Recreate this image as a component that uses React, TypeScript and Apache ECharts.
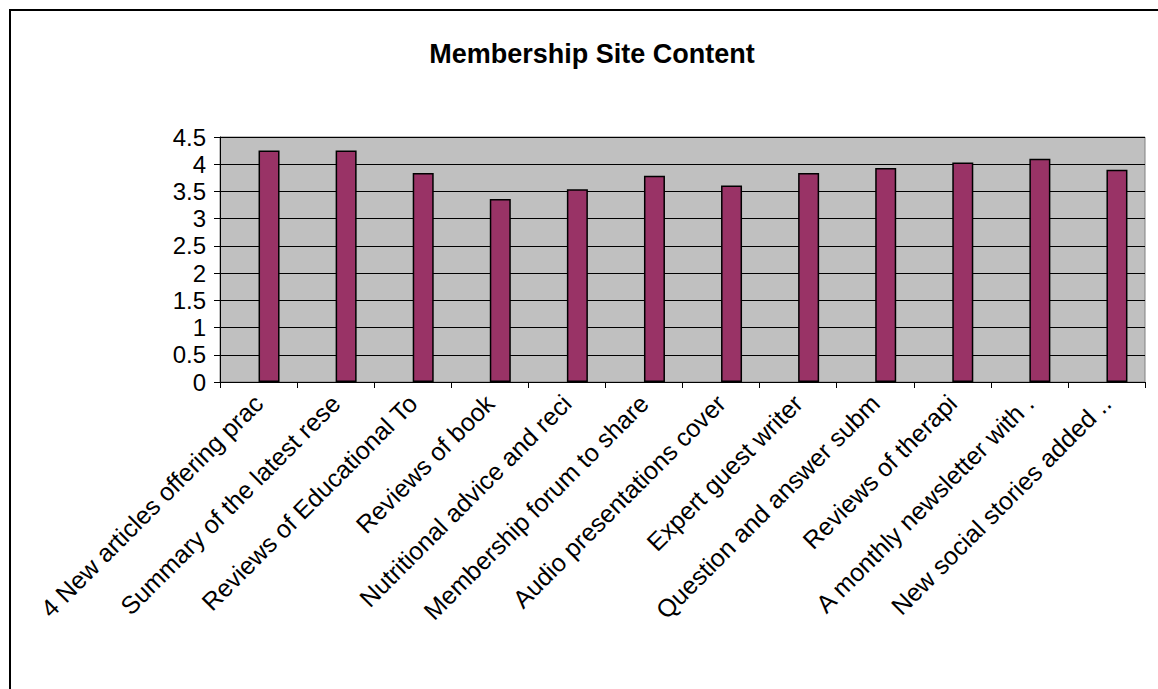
import React, { useEffect, useRef } from "react";
import * as echarts from "echarts";

const titleText = "Membership Site Content";

const categories = [
  "4 New articles offering prac",
  "Summary of the latest rese",
  "Reviews of Educational To",
  "Reviews of book",
  "Nutritional advice and reci",
  "Membership forum to share",
  "Audio presentations cover",
  "Expert guest writer",
  "Question and answer subm",
  "Reviews of therapi",
  "A monthly newsletter with .",
  "New social stories added ..",
];

const ratings = [4.25, 4.25, 3.84, 3.36, 3.54, 3.79, 3.61, 3.84, 3.93, 4.03, 4.1, 3.9];

// empty companion series (the chart leaves a blank slot left of each bar)
const emptySlot = [null, null, null, null, null, null, null, null, null, null, null, null];

const yTicks = { min: 0, max: 4.5, interval: 0.5 };

const FONT = "'Liberation Sans', Arial, sans-serif";

export default function App() {
  const ref = useRef<HTMLDivElement>(null);

  useEffect(() => {
    if (!ref.current) return;
    const chart = echarts.init(ref.current, null, { renderer: "svg" });
    chart.setOption({
      animation: false,
      backgroundColor: "#ffffff",
      title: {
        text: titleText,
        left: 587,
        top: 35,
        textAlign: "center",
        textStyle: {
          fontFamily: FONT,
          fontSize: 27,
          fontWeight: "bold",
          color: "#000",
        },
      },
      graphic: [
        {
          type: "rect",
          shape: { x: 10, y: 10, width: 1300, height: 900 },
          style: { fill: "none", stroke: "#000", lineWidth: 2 },
          silent: true,
        },
      ],
      grid: {
        left: 220,
        top: 137,
        width: 925,
        height: 245,
        show: true,
        backgroundColor: "#C0C0C0",
        borderColor: "#808080",
        borderWidth: 1,
        containLabel: false,
      },
      xAxis: {
        type: "category",
        data: categories,
        boundaryGap: true,
        axisLine: { show: true, lineStyle: { color: "#000", width: 1 } },
        axisTick: { show: true, length: 6, alignWithLabel: false, lineStyle: { color: "#000" } },
        axisLabel: {
          interval: 0,
          rotate: 45,
          margin: 17,
          fontFamily: FONT,
          fontSize: 25,
          color: "#000",
        },
        splitLine: { show: false },
      },
      yAxis: {
        type: "value",
        min: yTicks.min,
        max: yTicks.max,
        interval: yTicks.interval,
        axisLine: { show: true, lineStyle: { color: "#000", width: 1 } },
        axisTick: { show: true, length: 6, lineStyle: { color: "#000" } },
        axisLabel: {
          margin: 14,
          fontFamily: FONT,
          fontSize: 24,
          color: "#000",
        },
        splitLine: { show: true, lineStyle: { color: "#000", width: 1 } },
      },
      series: [
        {
          type: "bar",
          name: "",
          data: emptySlot,
          barWidth: 21,
          barGap: "0%",
          silent: true,
        },
        {
          type: "bar",
          name: "Rating",
          data: ratings,
          barWidth: 21,
          barGap: "0%",
          itemStyle: { color: "#993366", borderColor: "#000", borderWidth: 1.5 },
        },
      ],
    });
    return () => chart.dispose();
  }, []);

  return (
    <div
      ref={ref}
      style={{ position: "absolute", left: 0, top: 0, width: 1158, height: 689 }}
    />
  );
}
